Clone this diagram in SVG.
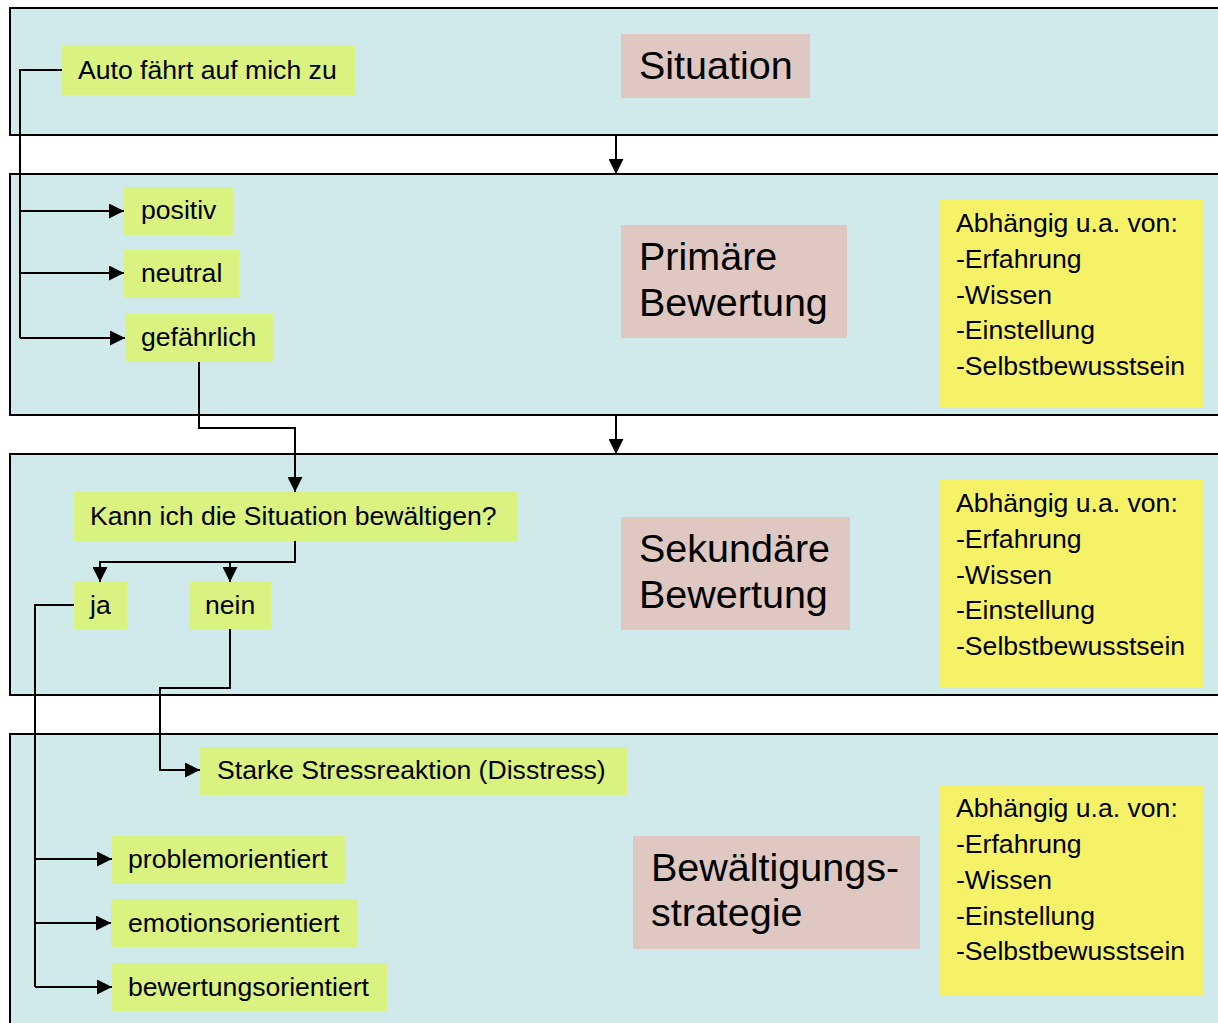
<svg xmlns="http://www.w3.org/2000/svg" width="1218" height="1023" viewBox="0 0 1218 1023">
<style>
.band{fill:#D0E9EA;stroke:#000;stroke-width:2}
.g{fill:#DAF27F}
.p{fill:#DEC8C1}
.y{fill:#F5F268}
.t{font-family:"Liberation Sans",Arial,sans-serif;font-size:26.6px;fill:#000}
.T{font-family:"Liberation Sans",Arial,sans-serif;font-size:39.5px;fill:#000}
.c{fill:none;stroke:#000;stroke-width:2}
</style>
<defs>
<marker id="ah" viewBox="0 0 15 15" markerWidth="15" markerHeight="15" refX="15" refY="7.5" orient="auto" markerUnits="userSpaceOnUse">
<path d="M0,0 L15,7.5 L0,15 z" fill="#000"/>
</marker>
</defs>
<rect width="1218" height="1023" fill="#fff"/>
<g id="bands">
<rect class="band" x="10" y="8" width="1230" height="127"/>
<rect class="band" x="10" y="174" width="1230" height="241"/>
<rect class="band" x="10" y="454" width="1230" height="241"/>
<rect class="band" x="10" y="734" width="1230" height="300"/>
</g>
<g id="n-situation"><rect class="p" x="621" y="34" width="189" height="64"/><text class="T" x="639" y="79">Situation</text></g>
<g id="n-primaer"><rect class="p" x="621" y="225" width="226" height="113"/><text class="T" x="639" y="270">Primäre</text><text class="T" x="639" y="316">Bewertung</text></g>
<g id="n-sekundaer"><rect class="p" x="621" y="517" width="229" height="113"/><text class="T" x="639" y="562">Sekundäre</text><text class="T" x="639" y="608">Bewertung</text></g>
<g id="n-bewaeltigung"><rect class="p" x="633" y="836" width="287" height="113"/><text class="T" x="651" y="881">Bewältigungs-</text><text class="T" x="651" y="926">strategie</text></g>
<g id="n-abh1"><rect class="y" x="940" y="200" width="263" height="208"/>
<text class="t" x="956" y="232">Abhängig u.a. von:</text><text class="t" x="956" y="268">-Erfahrung</text><text class="t" x="956" y="304">-Wissen</text><text class="t" x="956" y="339">-Einstellung</text><text class="t" x="956" y="375">-Selbstbewusstsein</text></g>
<g id="n-abh2"><rect class="y" x="940" y="480" width="263" height="208"/>
<text class="t" x="956" y="512">Abhängig u.a. von:</text><text class="t" x="956" y="548">-Erfahrung</text><text class="t" x="956" y="584">-Wissen</text><text class="t" x="956" y="619">-Einstellung</text><text class="t" x="956" y="655">-Selbstbewusstsein</text></g>
<g id="n-abh3"><rect class="y" x="940" y="786" width="263" height="209"/>
<text class="t" x="956" y="817">Abhängig u.a. von:</text><text class="t" x="956" y="853">-Erfahrung</text><text class="t" x="956" y="889">-Wissen</text><text class="t" x="956" y="925">-Einstellung</text><text class="t" x="956" y="960">-Selbstbewusstsein</text></g>
<g id="n-auto"><rect class="g" x="62" y="46" width="293" height="49"/><text class="t" x="78" y="79">Auto fährt auf mich zu</text></g>
<g id="n-positiv"><rect class="g" x="124" y="187" width="109" height="48"/><text class="t" x="141" y="219">positiv</text></g>
<g id="n-neutral"><rect class="g" x="124" y="250" width="115" height="48"/><text class="t" x="141" y="282">neutral</text></g>
<g id="n-gefaehrlich"><rect class="g" x="125" y="314" width="148" height="48"/><text class="t" x="141" y="346">gefährlich</text></g>
<g id="n-kann"><rect class="g" x="74" y="492" width="443" height="49"/><text class="t" x="90" y="525">Kann ich die Situation bewältigen?</text></g>
<g id="n-ja"><rect class="g" x="74" y="582" width="53" height="47"/><text class="t" x="90" y="614">ja</text></g>
<g id="n-nein"><rect class="g" x="189" y="582" width="82" height="47"/><text class="t" x="205" y="614">nein</text></g>
<g id="n-stress"><rect class="g" x="200" y="747" width="427" height="48"/><text class="t" x="217" y="779">Starke Stressreaktion (Disstress)</text></g>
<g id="n-problem"><rect class="g" x="112" y="836" width="233" height="48"/><text class="t" x="128" y="868">problemorientiert</text></g>
<g id="n-emotion"><rect class="g" x="111" y="899" width="246" height="48"/><text class="t" x="128" y="932">emotionsorientiert</text></g>
<g id="n-bewertung"><rect class="g" x="112" y="963" width="275" height="48"/><text class="t" x="128" y="996">bewertungsorientiert</text></g>
<g id="connectors">
<path class="c" d="M62,70 H20 V338"/>
<path class="c" d="M20,211 H124" marker-end="url(#ah)"/>
<path class="c" d="M20,273 H124" marker-end="url(#ah)"/>
<path class="c" d="M20,338 H125" marker-end="url(#ah)"/>
<path class="c" d="M616,135 V174" marker-end="url(#ah)"/>
<path class="c" d="M616,415 V454" marker-end="url(#ah)"/>
<path class="c" d="M199,362 V428 H295 V492" marker-end="url(#ah)"/>
<path class="c" d="M295,541 V562 H100 V582" marker-end="url(#ah)"/>
<path class="c" d="M230,562 V582" marker-end="url(#ah)"/>
<path class="c" d="M230,629 V688 H160 V770 H200" marker-end="url(#ah)"/>
<path class="c" d="M74,605 H35 V987"/>
<path class="c" d="M35,859 H112" marker-end="url(#ah)"/>
<path class="c" d="M35,923 H111" marker-end="url(#ah)"/>
<path class="c" d="M35,987 H112" marker-end="url(#ah)"/>
</g>
</svg>
